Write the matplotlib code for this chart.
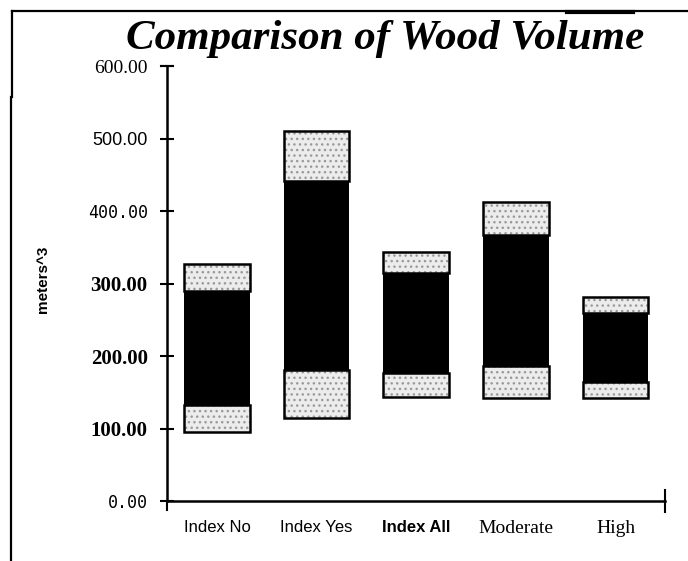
import numpy as np
import matplotlib
matplotlib.use('Agg')
import matplotlib.pyplot as plt
from matplotlib.lines import Line2D

# categories and stacked segment boundaries (meters^3)
categories = ['Index No', 'Index Yes', 'Index All', 'Moderate', 'High']
bar_bottom = [95, 114, 144, 142, 142]
low_top = [133, 181, 176, 186, 164]
mid_top = [290, 442, 315, 367, 260]
bar_top = [327, 510, 344, 412, 282]

yticks = [0, 100, 200, 300, 400, 500, 600]
ytick_labels = ['0.00', '100.00', '200.00', '300.00', '400.00', '500.00', '600.00']

x = np.arange(len(categories))
bottom = np.array(bar_bottom)
low = np.array(low_top)
mid = np.array(mid_top)
top = np.array(bar_top)
w = 0.66

fig = plt.figure(figsize=(6.88, 5.61), dpi=100)
ax = fig.add_axes([0.243, 0.107, 0.724, 0.775])

# stippled grey segments
stip = dict(width=w, color='#ececec', edgecolor='#9a9a9a', hatch='...', linewidth=0)
ax.bar(x, low - bottom, bottom=bottom, **stip)
ax.bar(x, top - mid, bottom=mid, **stip)
ax.bar(x, mid - low, bottom=low, width=w, color='black', linewidth=0)
# outlines
ax.bar(x, low - bottom, bottom=bottom, width=w, fill=False, edgecolor='black', linewidth=1.8)
ax.bar(x, top - mid, bottom=mid, width=w, fill=False, edgecolor='black', linewidth=1.8)

ax.set_xlim(-0.5, 4.5)
ax.set_ylim(0, 600)
for s in ['top', 'right']:
    ax.spines[s].set_visible(False)
ax.spines['left'].set_linewidth(1.8)
ax.spines['bottom'].set_linewidth(1.8)

ax.set_yticks(yticks)
ax.set_yticklabels(ytick_labels)
ax.tick_params(axis='y', direction='inout', length=10, width=1.5, pad=9)
fams = [('DejaVu Sans Mono', 'normal', 12), ('Liberation Serif', 'bold', 15),
        ('Liberation Serif', 'bold', 15), ('Liberation Serif', 'bold', 15),
        ('DejaVu Sans Mono', 'normal', 12), ('Liberation Sans', 'normal', 13),
        ('Liberation Serif', 'normal', 14)]
for lbl, (fam, wt, sz) in zip(ax.get_yticklabels(), fams):
    lbl.set_family(fam)
    lbl.set_weight(wt)
    lbl.set_fontsize(sz)

ax.set_xticks(x)
ax.set_xticklabels(categories)
ax.tick_params(axis='x', length=0, pad=14)
xf = [('Liberation Sans', 'normal', 12), ('Liberation Sans', 'normal', 12),
      ('Liberation Sans', 'bold', 12), ('Liberation Serif', 'normal', 14),
      ('Liberation Serif', 'normal', 14)]
for lbl, (fam, wt, sz) in zip(ax.get_xticklabels(), xf):
    lbl.set_family(fam)
    lbl.set_weight(wt)
    lbl.set_fontsize(sz)

# end ticks on the axes
ax.plot([1, 1], [-0.025, 0.025], transform=ax.transAxes, color='black', lw=1.5, clip_on=False)
ax.plot([0, 0], [0, -0.02], transform=ax.transAxes, color='black', lw=1.5, clip_on=False)
ax.plot([-0.012, 0.012], [1, 1], transform=ax.transAxes, color='black', lw=1.5, clip_on=False)

ax.set_ylabel('meters^3', family='Liberation Sans', fontweight='bold', fontsize=11)
ax.yaxis.set_label_coords(-0.235, 0.51)

fig.text(0.56, 0.93, 'Comparison of Wood Volume', family='Liberation Serif', style='italic',
         fontweight='bold', fontsize=31, ha='center', va='center')

# frame lines of the scanned page
fig.add_artist(Line2D([12 / 688, 1], [1 - 11 / 561] * 2, color='black', lw=1.6))
fig.add_artist(Line2D([567 / 688, 633 / 688], [1 - 12 / 561] * 2, color='black', lw=3))
fig.add_artist(Line2D([12 / 688] * 2, [1 - 11 / 561, 1 - 97 / 561], color='black', lw=1.6))
fig.add_artist(Line2D([11 / 688] * 2, [1 - 97 / 561, 0], color='black', lw=1.6))

fig.savefig('out.png', dpi=100)
